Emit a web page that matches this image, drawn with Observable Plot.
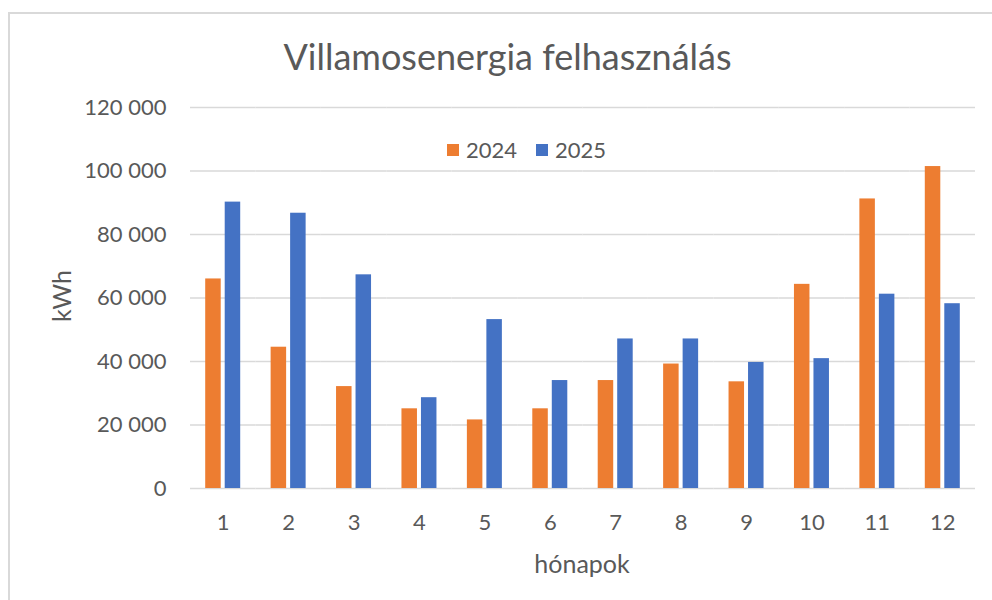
<!DOCTYPE html>
<html>
<head>
<meta charset="utf-8">
<script src="https://cdn.jsdelivr.net/npm/d3@7"></script>
<script src="https://cdn.jsdelivr.net/npm/@observablehq/plot@0.6"></script>
<style>
  html, body { margin: 0; padding: 0; background: #fff; overflow: hidden; }
  #wrap { position: relative; width: 992px; height: 600px; font-family: Lato, "Open Sans", sans-serif; color: #595959; }
  #frame { position: absolute; left: 8px; top: 12px; width: 2000px; height: 2000px; border-top: 2px solid #D9D9D9; border-left: 2px solid #D9D9D9; box-sizing: border-box; }
  #title { position: absolute; left: 0; width: 1015px; top: 33px; text-align: center; font-size: 36px; line-height: 46px; white-space: nowrap; }
  #ylabel { position: absolute; left: 61px; top: 296px; transform: translate(-50%, -50%) rotate(-90deg); font-size: 25px; white-space: nowrap; }
  #xlabel { position: absolute; left: 582px; top: 563px; transform: translate(-50%, -50%); font-size: 25px; white-space: nowrap; }
  #legend { position: absolute; left: 447px; top: 137px; font-size: 22px; line-height: 26px; white-space: nowrap; display: flex; align-items: center; }
  .sw { display: inline-block; width: 12px; height: 12px; margin-right: 7px; }
  .item { display: inline-flex; align-items: center; margin-right: 19px; }
  #chart { position: absolute; left: 0; top: 0; }
</style>
</head>
<body>
<div id="wrap">
  <div id="frame"></div>
  <div id="chart"></div>
  <div id="title">Villamosenergia felhasználás</div>
  <div id="ylabel">kWh</div>
  <div id="xlabel">hónapok</div>
  <div id="legend"></div>
</div>
<script>
const months = [1, 2, 3, 4, 5, 6, 7, 8, 9, 10, 11, 12];
const years = ["2024", "2025"];
const values2024 = [66000, 44500, 32100, 25100, 21600, 25100, 34000, 39200, 33600, 64300, 91200, 101400];
const values2025 = [90200, 86700, 67300, 28600, 53200, 34000, 47100, 47100, 39700, 40900, 61200, 58200];
const yTicks = [0, 20000, 40000, 60000, 80000, 100000, 120000];
const colors = ["#ED7D31", "#4472C4"];

const data = months.flatMap((m, i) => [
  {month: m, year: years[0], value: values2024[i]},
  {month: m, year: years[1], value: values2025[i]}
]);

const fmt = d => d3.format(",")(d).replace(/,/g, " ");

const chart = Plot.plot({
  width: 992,
  height: 600,
  marginLeft: 190,
  marginRight: 17,
  marginTop: 107,
  marginBottom: 112,
  style: {fontFamily: "Lato, 'Open Sans', sans-serif", fontSize: "22px", color: "#595959", background: "transparent"},
  fx: {domain: months, padding: 0, round: false, label: null, axis: "bottom", tickSize: 0, tickPadding: 26},
  x: {domain: years, paddingInner: 0.205, paddingOuter: 0.78, round: false, axis: null},
  y: {domain: [0, 120000], ticks: yTicks, tickFormat: fmt, tickSize: 0, tickPadding: 24, label: null, grid: false},
  color: {domain: years, range: colors},
  marks: [
    Plot.ruleY(yTicks, {stroke: "#D9D9D9", strokeWidth: 1.5}),
    Plot.barY(data, {fx: "month", x: "year", y: "value", fill: "year"})
  ]
});
document.getElementById("chart").appendChild(chart);

const legend = document.getElementById("legend");
years.forEach((y, i) => {
  const item = document.createElement("span");
  item.className = "item";
  const sw = document.createElement("span");
  sw.className = "sw";
  sw.style.background = colors[i];
  item.appendChild(sw);
  item.appendChild(document.createTextNode(y));
  legend.appendChild(item);
});
</script>
</body>
</html>
